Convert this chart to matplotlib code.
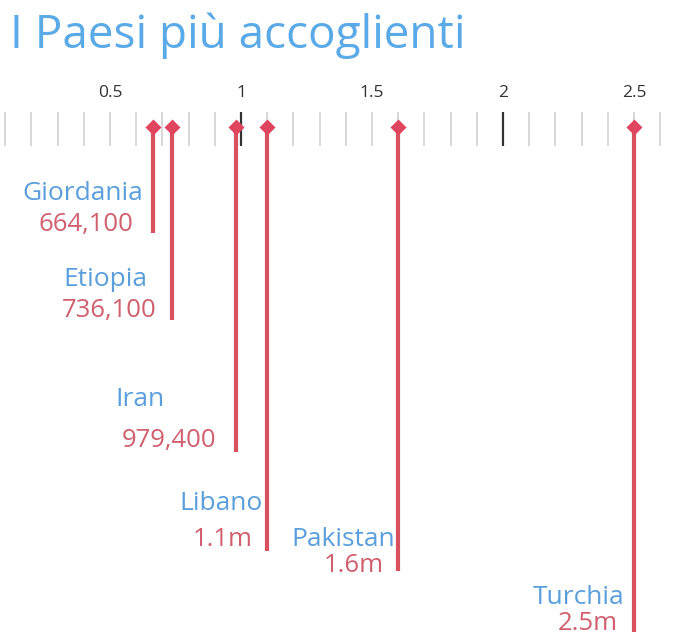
import matplotlib
matplotlib.use("Agg")
import matplotlib.pyplot as plt
import numpy as np

title = "I Paesi più accoglienti"
countries = ["Giordania", "Etiopia", "Iran", "Libano", "Pakistan", "Turchia"]
values = [0.6641, 0.7361, 0.9794, 1.1, 1.6, 2.5]   # millions of refugees
value_labels = ["664,100", "736,100", "979,400", "1.1m", "1.6m", "2.5m"]
tick_values = [0.5, 1, 1.5, 2, 2.5]
tick_labels = ["0.5", "1", "1.5", "2", "2.5"]

# layout (pixel rows, figure coordinates from the top)
line_end = [233, 320, 452, 551, 571, 632]
name_y = [194, 279, 400, 503, 539, 597]
val_y = [225, 310, 441, 540, 566, 623]
name_x = [143, 147, 115, 263, 395, 624]
name_ha = ["right", "right", "left", "right", "right", "right"]
val_x = [133, 157, 216, 253, 384, 618]

W, H = 685, 637
fig = plt.figure(figsize=(W / 100, H / 100), dpi=100)
ax = fig.add_axes([0, 0, 1, 1])
ax.set_xlim(21 / 262, (685 + 21) / 262)
ax.set_ylim(H, 0)
ax.axis("off")

def px2v(px):
    return (px + 21) / 262

FONT = ["Open Sans", "DejaVu Sans"]
BLUE_T = "#5aaae8"
BLUE = "#5a9fdc"
RED_T = "#d0606e"
RED = "#d9505f"

fig.text(10 / W, 1 - 36 / H, title, fontsize=33, color=BLUE_T, family=FONT,
         va="center", ha="left")

# ruler ticks
minor = np.round(np.arange(0.1, 2.65, 0.1), 2)
for t in minor:
    dark = abs(t - 1) < 1e-6 or abs(t - 2) < 1e-6
    ax.plot([t, t], [112, 146], color="#333333" if dark else "#d2d2d2",
            lw=1.6 if dark else 1.2, solid_capstyle="butt", zorder=1)
for tv, tl in zip(tick_values, tick_labels):
    ax.text(tv, 93, tl, ha="center", va="center", fontsize=12.5, color="#333333",
            family=FONT)

for i, (c, v) in enumerate(zip(countries, values)):
    ax.plot([v, v], [127, line_end[i]], color=RED, lw=3, solid_capstyle="butt",
            zorder=2)
    ax.plot([v], [127], marker="D", ms=8.5, color="#e04560", mec="none", zorder=3)
    ax.text(px2v(name_x[i]), name_y[i], c, ha=name_ha[i], va="center",
            fontsize=19, color=BLUE, family=FONT)
    ax.text(px2v(val_x[i]), val_y[i], value_labels[i], ha="right", va="center",
            fontsize=18.5, color=RED_T, family=FONT)

fig.savefig("out.png", dpi=100, facecolor="white")
